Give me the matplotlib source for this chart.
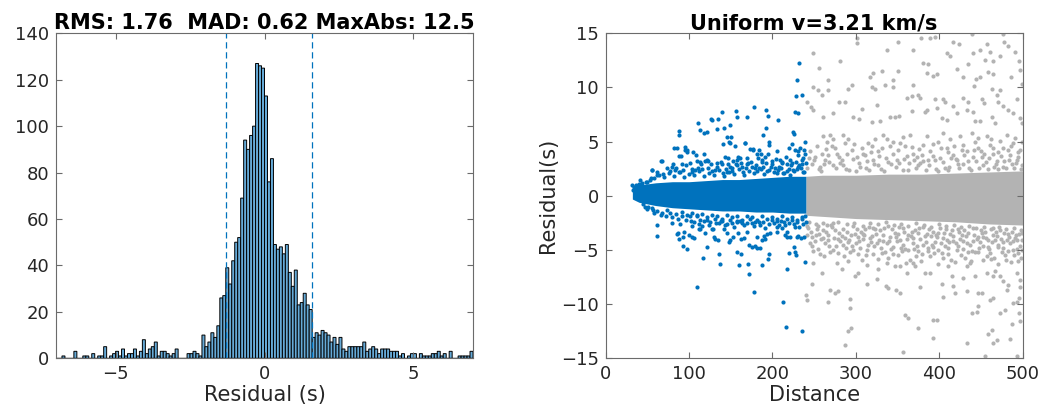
import numpy as np
import matplotlib
matplotlib.use("Agg")
import matplotlib.pyplot as plt

# ---------------- Histogram data (bin width 0.1 from -7 to 7) ----------------
hist_edges_start = -7.0
hist_bin_width = 0.1
hist_counts = [
    0, 0, 1, 0, 0, 0, 3, 0, 0, 1,
    1, 0, 2, 0, 1, 1, 5, 0, 1, 2,
    3, 1, 4, 1, 2, 2, 4, 1, 3, 8,
    2, 4, 5, 7, 1, 3, 3, 2, 1, 2,
    4, 0, 0, 0, 2, 2, 3, 2, 1, 10,
    5, 7, 11, 9, 14, 26, 27, 39, 32, 42,
    50, 52, 69, 94, 90, 96, 100, 127, 126, 125,
    113, 76, 86, 49, 47, 48, 45, 49, 37, 31,
    38, 23, 24, 28, 23, 21, 9, 11, 10, 12,
    11, 10, 7, 9, 6, 9, 4, 3, 5, 5,
    5, 5, 5, 7, 3, 4, 5, 4, 2, 4,
    4, 4, 3, 3, 3, 1, 2, 0, 1, 2,
    2, 0, 2, 1, 1, 1, 2, 2, 3, 1,
    2, 0, 3, 0, 0, 1, 1, 1, 1, 3,
]
dash_lines = [-1.28, 1.59]
left_title = "RMS: 1.76  MAD: 0.62 MaxAbs: 12.5"
right_title = "Uniform v=3.21 km/s"

# ---------------- Scatter data ----------------
# dense core envelopes
blue_core_dist = [32, 40, 60, 80, 100, 120, 140, 160, 180, 200, 220, 240]
blue_core_up = [0.9, 1.0, 1.2, 1.3, 1.3, 1.4, 1.5, 1.5, 1.6, 1.7, 1.8, 1.8]
blue_core_lo = [-0.3, -0.6, -0.9, -1.1, -1.2, -1.3, -1.4, -1.4, -1.5, -1.5, -1.6, -1.6]

gray_core_dist = [240, 260, 300, 340, 380, 420, 460, 500]
gray_core_up = [1.8, 1.9, 1.9, 2.0, 2.0, 2.1, 2.2, 2.3]
gray_core_lo = [-1.8, -1.9, -2.1, -2.2, -2.3, -2.4, -2.6, -2.7]

blue_points = [
    # start of cloud
    (32, 1.0), (34, 0.8), (36, 1.0), (38, 0.7), (33, 0.5), (40, 1.1), (42, 0.9),
    (45, -0.8), (47, -1.0), (44, 1.2), (48, 1.3), (50, 1.3), (54, 1.6),
    # near edge upper
    (58, 1.6), (64, 1.9), (70, 1.7), (76, 2.1), (82, 1.8), (88, 2.2), (94, 1.7),
    (100, 2.0), (106, 1.9), (112, 2.3), (118, 1.8), (124, 2.1), (130, 1.9),
    (136, 2.4), (142, 1.8), (148, 2.2), (154, 2.0), (160, 2.5), (166, 1.9),
    (172, 2.3), (178, 2.1), (184, 2.6), (190, 2.0), (196, 2.4), (202, 2.2),
    (208, 2.7), (214, 2.1), (220, 2.5), (226, 2.3), (232, 2.8), (238, 2.2),
    (84, 2.6), (96, 2.8), (104, 2.5), (114, 2.9), (126, 2.9), (134, 2.7),
    (138, 3.1), (144, 2.5), (152, 2.6), (156, 2.9), (162, 3.0), (168, 2.6),
    (174, 3.1), (180, 2.8), (186, 2.5), (192, 3.0), (198, 2.7), (204, 3.4),
    (210, 2.6), (216, 3.6), (222, 2.8), (228, 3.1), (234, 2.6), (240, 3.0),
    (236, 3.3),
    (62, 2.2), (69, 2.0), (81, 2.9), (93, 2.4), (103, 2.2), (109, 3.2), (116, 2.5),
    (127, 2.3), (133, 3.0), (151, 2.3), (158, 2.8), (165, 2.2), (170, 2.9),
    (182, 2.3), (188, 3.1), (193, 2.3), (200, 2.9), (207, 2.4), (212, 3.1),
    (218, 2.3), (223, 3.0), (229, 2.5), (235, 2.9),
    # near edge lower
    (50, -1.2), (62, -1.4), (68, -1.6), (74, -1.3), (84, -1.7), (92, -1.5),
    (98, -1.8), (104, -1.6), (110, -1.9), (116, -1.7), (122, -2.0), (128, -1.8),
    (134, -1.9), (140, -2.1), (146, -1.8), (152, -2.0), (158, -1.9), (164, -2.2),
    (170, -1.9), (176, -2.0), (182, -2.2), (188, -1.9), (194, -2.1), (200, -2.0),
    (206, -2.3), (212, -1.9), (218, -2.1), (224, -2.0), (230, -2.2), (236, -2.0),
    (72, -1.9), (96, -2.2), (106, -2.4), (118, -2.3), (124, -2.7), (136, -2.5),
    (146, -2.6), (154, -2.9), (166, -2.7), (176, -2.5), (184, -2.4), (196, -2.6),
    (208, -2.7), (214, -2.4), (226, -2.6), (232, -2.9), (240, -2.4),
    (58, -1.6), (66, -1.8), (80, -2.0), (89, -2.6), (102, -2.3), (112, -2.6),
    (121, -2.2), (132, -2.5), (139, -2.3), (151, -2.5), (161, -2.3), (170, -2.5),
    (178, -2.8), (189, -2.4), (202, -2.5), (210, -2.3), (220, -2.5), (227, -2.9),
    (237, -2.6),
    # upper fringe
    (67, 3.2), (56, 2.4), (77, 2.3), (83, 2.4), (89, 2.2), (86, 4.4), (88, 3.7),
    (95, 4.2), (98, 4.0), (91, 2.9), (101, 3.0), (107, 2.4), (111, 2.6), (108, 3.8),
    (119, 3.2), (121, 3.3), (123, 2.6), (131, 2.4), (141, 2.1), (145, 2.2),
    (147, 2.9), (149, 2.7), (153, 3.2), (143, 3.6), (149, 4.9), (155, 4.6),
    (167, 4.9), (173, 4.3), (177, 4.2), (181, 3.9), (183, 3.5), (187, 3.3),
    (191, 3.6), (195, 3.9), (199, 3.2), (203, 2.6), (209, 3.3), (211, 3.0),
    (217, 2.9), (221, 3.3), (227, 4.2), (231, 3.8), (233, 4.4), (237, 3.5),
    (239, 3.9), (225, 2.4), (231, 2.7), (237, 2.2), (169, 3.5), (171, 3.0),
    (157, 3.3), (161, 3.5), (163, 2.7), (175, 2.7), (179, 2.6), (189, 2.7),
    (205, 2.1), (213, 2.1), (221, 1.9), (73, 2.6), (79, 2.7), (61, 1.9),
    (53, 1.5), (41, 1.5),
    # upper outliers
    (232, 12.3), (230, 10.7), (228, 9.2), (236, 9.3), (227, 7.7), (231, 7.6),
    (178, 8.2), (192, 7.9), (195, 7.4), (207, 7.0), (140, 7.7), (156, 7.8),
    (169, 7.3), (126, 7.1), (128, 7.0), (135, 7.1), (111, 6.7), (157, 7.3),
    (88, 6.0), (88, 5.6), (113, 6.1), (118, 5.8), (122, 5.9), (133, 6.2),
    (142, 6.3), (149, 6.5), (192, 6.3), (225, 5.9), (226, 5.7), (145, 5.4),
    (150, 5.4), (141, 4.8), (148, 5.0), (189, 5.6), (196, 5.0), (196, 4.7),
    (167, 4.9), (82, 4.4), (95, 4.5), (97, 4.2), (224, 4.8), (239, 5.0),
    (55, 2.4), (66, 3.2), (105, 4.0), (118, 3.9), (90, 3.7), (177, 4.3),
    (184, 4.2), (186, 3.9), (205, 4.1), (220, 4.4), (231, 4.1), (238, 4.2),
    (113, 3.1), (123, 3.2), (139, 2.9), (147, 3.5), (159, 3.6),
    # lower fringe
    (51, -1.0), (55, -1.1), (57, -1.3), (77, -1.6), (87, -2.1), (91, -1.9),
    (101, -1.9), (109, -1.8), (113, -2.2), (125, -2.4), (131, -2.1), (143, -2.7),
    (149, -2.2), (157, -2.4), (163, -2.5), (173, -2.1), (179, -2.4), (185, -2.7),
    (191, -3.0), (199, -2.2), (205, -2.1), (211, -3.0), (215, -2.7), (223, -2.2),
    (229, -2.4), (235, -2.1), (239, -1.9), (87, -3.4), (93, -3.8), (113, -3.1),
    (119, -3.4), (129, -3.1), (135, -4.1), (153, -3.8), (159, -3.4), (169, -3.3),
    (181, -3.8), (187, -4.1), (197, -3.4), (205, -3.3), (217, -3.3), (221, -3.8),
    (61, -2.7), (61, -3.7),
    # lower outliers
    (109, -8.4), (178, -8.9), (213, -9.8), (216, -12.1), (236, -12.5), (217, -6.8),
    (172, -7.2), (160, -6.4), (171, -6.3), (137, -6.3), (188, -6.4), (117, -5.7),
    (136, -5.4), (158, -5.2), (162, -5.4), (196, -5.4), (195, -5.8), (220, -5.3),
    (227, -5.2), (228, -5.5), (239, -6.1), (97, -4.9), (93, -4.6), (122, -4.7),
    (149, -4.1), (148, -4.3), (172, -4.5), (175, -4.7), (179, -4.6), (182, -4.8),
    (185, -4.8), (162, -4.0), (166, -3.9), (190, -3.7), (194, -3.5), (191, -4.0),
    (205, -2.9), (215, -3.6), (217, -3.8), (229, -3.8), (234, -3.9), (231, -3.7),
    (238, -3.8), (226, -4.7), (86, -3.5), (88, -4.0), (100, -3.6), (103, -3.8),
    (106, -3.9), (94, -3.3), (112, -3.1), (115, -2.8), (128, -3.1), (130, -3.8),
    (131, -4.0), (142, -3.1), (145, -3.4), (80, -2.5), (103, -2.8), (138, -2.3),
    (158, -2.3),
]

gray_points = [
    # upper outliers
    (249, 13.2), (281, 12.4), (256, 11.8), (301, 14.6), (301, 14.1), (351, 14.2),
    (337, 13.5), (369, 13.5), (378, 14.6), (389, 14.6), (395, 14.7), (417, 14.2),
    (424, 14.0), (439, 14.9), (449, 13.5), (457, 14.0), (461, 13.3), (477, 14.9),
    (478, 14.2), (483, 13.8), (491, 13.3), (409, 13.2), (413, 12.9), (440, 13.2),
    (435, 12.2), (455, 12.5), (465, 12.4), (473, 12.9), (496, 12.4), (381, 12.3),
    (387, 12.2), (421, 11.7), (331, 11.5), (321, 11.3), (317, 11.0), (350, 11.5),
    (344, 10.7), (385, 11.3), (392, 11.1), (397, 11.2), (428, 11.0), (444, 10.8),
    (449, 11.0), (459, 11.4), (464, 11.2), (486, 11.0), (497, 11.6), (249, 10.0),
    (254, 9.8), (266, 10.7), (267, 9.8), (291, 9.9), (295, 10.2), (319, 10.0),
    (323, 9.9), (335, 10.2), (344, 10.0), (369, 10.2), (442, 10.1), (463, 9.9),
    (473, 9.8), (499, 10.3), (241, 8.7), (259, 9.3), (280, 8.7), (287, 8.7),
    (307, 8.0), (325, 8.4), (361, 9.0), (367, 9.2), (375, 9.3), (377, 9.0),
    (395, 8.9), (405, 8.9), (407, 8.7), (416, 8.3), (429, 9.0), (435, 8.7),
    (451, 8.9), (454, 8.6), (469, 9.3), (471, 8.7), (493, 8.9), (476, 8.3),
    (483, 7.9), (246, 8.2), (249, 7.9), (273, 7.6), (261, 7.3), (297, 7.3),
    (304, 7.1), (319, 6.8), (329, 6.9), (341, 7.3), (347, 7.3), (352, 7.4),
    (367, 7.8), (385, 7.9), (397, 8.1), (383, 7.7), (403, 7.2), (409, 7.0),
    (421, 7.6), (433, 7.9), (441, 7.7), (443, 6.9), (449, 6.9), (463, 7.3),
    (467, 6.7), (489, 7.6), (497, 7.2), (499, 6.7),
    # lower outliers
    (240, -9.2), (241, -9.6), (247, -8.1), (259, -7.1), (266, -9.8), (269, -8.7),
    (275, -9.0), (279, -8.8), (293, -9.5), (293, -10.4), (291, -12.5), (294, -12.2),
    (287, -13.8), (299, -7.4), (303, -7.1), (313, -8.1), (325, -7.7), (327, -6.8),
    (336, -8.3), (338, -8.5), (348, -8.7), (353, -9.0), (357, -14.4), (359, -11.0),
    (363, -11.3), (375, -12.2), (361, -7.1), (371, -6.5), (377, -8.4), (383, -7.1),
    (389, -7.1), (393, -11.5), (397, -11.5), (393, -13.1), (403, -8.1), (405, -9.3),
    (399, -6.3), (417, -8.3), (419, -9.0), (429, -7.6), (433, -8.8), (433, -13.6),
    (439, -10.8), (445, -10.7), (447, -10.2), (433, -6.5), (437, -6.2), (447, -9.0),
    (451, -9.0), (455, -14.8), (459, -12.8), (463, -12.4), (465, -13.6), (469, -13.3),
    (461, -9.6), (465, -9.4), (473, -10.8), (479, -10.5), (485, -13.2), (487, -11.8),
    (489, -9.9), (493, -9.8), (496, -10.8), (497, -11.6), (496, -9.4), (493, -14.8),
    (481, -8.7), (483, -8.2), (473, -7.4), (477, -7.9), (493, -7.1), (497, -7.8),
    (497, -8.4), (457, -7.1), (465, -7.4), (467, -6.9), (443, -7.4), (411, -6.5),
    (415, -7.4), (347, -6.5), (353, -6.5), (313, -6.4), (277, -6.2), (283, -6.8),
    (249, -6.2), (337, -6.2), (369, -6.2),
    # upper medium zone
    (245, 4.1), (251, 3.6), (259, 3.9), (261, 5.5), (265, 5.0), (269, 5.6),
    (273, 5.2), (257, 2.7), (263, 3.3), (271, 4.6), (277, 3.9), (281, 3.0),
    (287, 4.9), (291, 5.2), (295, 4.2), (285, 5.6), (301, 3.6), (307, 4.4),
    (311, 3.8), (315, 4.9), (319, 4.6), (323, 5.2), (327, 4.1), (333, 5.6),
    (337, 5.2), (341, 4.6), (345, 3.9), (349, 3.3), (353, 4.9), (359, 4.6),
    (365, 5.6), (369, 3.9), (373, 3.6), (377, 3.0), (381, 4.7), (385, 5.5),
    (389, 4.1), (395, 3.3), (399, 5.0), (405, 5.8), (409, 4.4), (413, 5.2),
    (417, 3.8), (421, 3.3), (425, 5.5), (429, 4.7), (433, 4.1), (439, 5.8),
    (443, 5.0), (447, 4.4), (451, 3.6), (457, 5.5), (461, 4.7), (465, 3.9),
    (469, 3.2), (473, 5.1), (477, 4.4), (481, 5.6), (485, 3.8), (489, 4.9),
    (493, 3.3), (497, 4.2),
    (242, 2.6), (250, 3.3), (258, 2.3), (264, 4.3), (272, 2.8), (280, 3.6),
    (288, 2.5), (296, 3.4), (300, 2.3), (308, 3.9), (316, 2.4), (320, 3.3),
    (328, 3.7), (334, 2.3), (342, 2.9), (350, 4.2), (358, 3.4), (362, 2.4),
    (370, 3.3), (376, 4.3), (384, 2.4), (392, 3.7), (398, 2.3), (402, 4.4),
    (410, 2.4), (414, 3.5), (424, 2.6), (430, 3.8), (438, 2.4), (442, 4.2),
    (448, 2.6), (454, 3.9), (458, 2.5), (464, 4.4), (470, 2.5), (474, 3.7),
    (480, 2.6), (486, 4.6), (490, 2.6), (494, 3.6), (498, 2.5),
    (244, 3.5), (253, 4.6), (262, 2.9), (267, 3.8), (275, 4.4), (283, 3.3),
    (289, 3.9), (298, 4.8), (305, 2.7), (313, 3.2), (318, 4.0), (326, 2.8),
    (331, 4.4), (336, 3.5), (344, 5.0), (352, 3.0), (357, 5.4), (361, 3.7),
    (367, 4.5), (375, 2.8), (379, 3.8), (387, 3.3), (393, 4.8), (401, 3.5),
    (407, 2.6), (411, 4.0), (418, 4.6), (423, 2.9), (427, 4.2), (434, 3.2),
    (441, 3.6), (446, 5.3), (450, 4.1), (456, 3.1), (462, 5.2), (466, 2.7),
    (471, 4.0), (478, 3.2), (482, 4.2), (487, 2.9), (491, 5.3), (495, 4.0),
    (499, 5.0),
    # upper near core
    (248, 2.9), (256, 2.5), (268, 3.1), (276, 2.6), (284, 2.8), (292, 2.4),
    (304, 3.0), (312, 2.6), (322, 2.9), (330, 2.5), (338, 3.1), (348, 2.7),
    (356, 2.4), (364, 3.0), (372, 2.6), (380, 3.2), (388, 2.8), (396, 2.5),
    (404, 3.1), (412, 2.7), (420, 3.4), (428, 2.9), (436, 2.6), (444, 3.2),
    (452, 2.8), (460, 3.5), (468, 2.9), (476, 2.7), (484, 3.3), (492, 3.0),
    (499, 2.8),
    # lower medium zone
    (243, -3.0), (245, -4.4), (249, -5.1), (252, -3.6), (255, -2.8), (258, -4.0),
    (262, -5.6), (264, -3.3), (268, -4.6), (271, -2.9), (274, -3.9), (278, -5.3),
    (281, -4.2), (285, -3.1), (288, -4.8), (291, -6.0), (294, -3.6), (297, -2.8),
    (300, -4.4), (303, -5.4), (306, -3.3), (309, -4.0), (313, -5.0), (316, -2.9),
    (319, -3.7), (322, -4.6), (326, -5.8), (329, -3.2), (332, -4.2), (335, -5.2),
    (338, -2.8), (341, -3.8), (344, -4.7), (347, -3.4), (350, -5.5), (353, -4.1),
    (356, -3.0), (359, -4.9), (362, -3.6), (365, -5.9), (368, -4.4), (371, -3.2),
    (374, -5.1), (377, -4.0), (380, -2.9), (383, -3.7), (386, -4.8), (389, -5.6),
    (392, -3.3), (395, -4.3), (398, -5.0), (401, -3.0), (404, -3.9), (407, -4.6),
    (410, -5.4), (413, -3.5), (416, -4.2), (419, -6.1), (422, -3.1), (425, -4.0),
    (428, -4.9), (431, -5.7), (434, -3.4), (437, -4.5), (440, -3.0), (443, -5.2),
    (446, -3.8), (449, -4.3), (452, -5.9), (455, -3.3), (458, -4.7), (461, -5.3),
    (464, -3.6), (467, -4.1), (470, -6.3), (473, -3.2), (476, -4.8), (479, -5.5),
    (482, -3.5), (485, -4.4), (488, -5.0), (491, -3.9), (494, -6.0), (497, -4.6),
    (499, -3.4),
    (247, -3.8), (254, -4.9), (260, -3.2), (266, -4.1), (273, -5.0), (280, -3.4),
    (287, -3.9), (293, -5.2), (299, -3.5), (305, -4.8), (311, -3.1), (318, -4.3),
    (324, -3.5), (331, -5.3), (337, -4.4), (343, -3.1), (349, -4.2), (355, -5.1),
    (361, -4.0), (367, -3.3), (373, -4.6), (379, -5.4), (385, -3.5), (391, -4.5),
    (397, -3.8), (403, -5.3), (409, -4.1), (415, -3.2), (421, -5.0), (427, -3.6),
    (433, -4.4), (439, -5.1), (445, -4.0), (451, -3.4), (457, -5.6), (463, -4.3),
    (469, -3.7), (475, -5.2), (481, -4.1), (487, -3.3), (493, -4.9), (498, -5.7),
    (241, -2.8), (246, -3.3), (251, -4.2), (256, -3.5), (263, -4.4), (267, -3.6),
    (272, -2.5), (276, -4.6), (283, -3.7), (286, -5.6), (290, -4.3), (295, -4.6),
    (302, -3.8), (307, -5.9), (310, -3.6), (314, -4.5), (320, -5.4), (323, -3.1),
    (328, -4.1), (333, -3.6), (339, -5.7), (342, -4.9), (348, -3.8), (352, -2.9),
    (357, -4.5), (360, -6.2), (366, -3.7), (370, -4.9), (375, -3.4), (378, -6.0),
    (384, -4.3), (388, -3.1), (394, -5.3), (396, -3.6), (402, -4.4), (406, -3.4),
    (411, -4.8), (414, -5.9), (420, -4.4), (424, -3.3), (429, -4.2), (432, -3.7),
    (438, -6.0), (441, -4.2), (447, -5.2), (450, -3.2), (453, -4.6), (456, -3.9),
    (460, -4.9), (466, -5.7), (468, -3.3), (471, -4.5), (474, -4.0), (478, -3.4),
    (483, -5.1), (486, -6.1), (489, -4.2), (492, -3.6), (495, -5.3), (499, -4.1),
    (242, -3.6), (248, -4.6), (253, -3.1), (257, -5.4), (261, -3.9), (265, -2.7),
    (269, -5.2), (275, -3.2), (279, -4.0), (284, -4.5), (289, -3.3), (292, -4.1),
    (296, -5.0), (301, -3.1), (304, -4.2), (308, -3.5), (312, -5.5), (317, -3.9),
    (321, -3.0), (325, -4.4), (330, -4.8), (334, -3.0), (340, -4.2), (345, -5.4),
    (351, -3.5), (354, -4.8), (358, -3.3), (363, -5.0), (369, -3.9), (372, -5.6),
    (376, -3.0), (381, -4.5), (387, -5.1), (390, -3.7), (393, -4.7), (399, -3.4),
    (405, -5.7), (408, -3.1), (412, -4.3), (417, -3.7), (423, -4.6), (426, -5.5),
    (430, -3.2), (435, -5.2), (442, -3.6), (448, -4.8), (452, -3.8), (459, -4.1),
    (462, -5.8), (465, -3.0), (470, -4.7), (477, -4.3), (480, -5.9), (484, -3.8),
    (490, -5.5), (493, -4.1), (496, -3.5), (499, -5.0),
    # lower near core
    (244, -2.4), (252, -2.6), (261, -2.5), (270, -2.7), (279, -2.4), (289, -2.6),
    (298, -2.5), (308, -2.8), (317, -2.5), (327, -2.6), (336, -2.4), (346, -2.7),
    (354, -2.6), (363, -2.8), (372, -2.5), (382, -2.7), (390, -2.9), (400, -2.6),
    (408, -2.8), (418, -2.7), (426, -2.9), (436, -2.8), (444, -3.0), (454, -2.9),
    (462, -3.1), (472, -2.9), (480, -3.1), (490, -3.0), (498, -3.2),
]

blue_dist = [p[0] for p in blue_points]
blue_resid = [p[1] for p in blue_points]
gray_dist = [p[0] for p in gray_points]
gray_resid = [p[1] for p in gray_points]

# ---------------- Style ----------------
plt.rcParams['font.family'] = ['DejaVu Sans']
BLUE = '#0072BD'
GRAY = '#B3B3B3'
HISTFACE = '#66AAD7'
AXCOL = '#262626'
FRAME = '#6b6b6b'

fig = plt.figure(figsize=(10.43, 4.19), dpi=100)
ax1 = fig.add_axes([0.0537, 0.1449, 0.3998, 0.7756])
ax2 = fig.add_axes([0.5807, 0.1449, 0.3998, 0.7756])


def style_axes(ax):
    for s in ax.spines.values():
        s.set_color(FRAME)
        s.set_linewidth(0.8)
    ax.tick_params(direction='in', length=4, width=0.8, color=FRAME,
                   labelcolor=AXCOL, labelsize=13, top=True, right=True,
                   pad=5)


# Histogram
edges = hist_edges_start + hist_bin_width * np.arange(len(hist_counts))
bars = ax1.bar(edges, hist_counts, width=hist_bin_width, align='edge',
               color=HISTFACE, edgecolor='#000000', linewidth=0.7)
for b in bars:
    b.set_snap(False)
for d in dash_lines:
    ax1.axvline(d, color=BLUE, linestyle=(0, (5, 3)), linewidth=0.9)
ax1.set_xlim(-7, 7)
ax1.set_ylim(0, 140)
ax1.set_xticks([-5, 0, 5])
ax1.set_yticks(np.arange(0, 141, 20))
ax1.set_xlabel('Residual (s)', fontsize=15, color=AXCOL, labelpad=1)
ax1.set_title(left_title, fontsize=15, fontweight='bold', pad=3)
style_axes(ax1)

# Scatter
ax2.fill_between(gray_core_dist, gray_core_lo, gray_core_up, color=GRAY,
                 linewidth=0)
ax2.scatter(gray_dist, gray_resid, s=9, color=GRAY, linewidths=0)
ax2.fill_between(blue_core_dist, blue_core_lo, blue_core_up, color=BLUE,
                 linewidth=0)
ax2.scatter(blue_dist, blue_resid, s=9, color=BLUE, linewidths=0)
ax2.set_xlim(0, 500)
ax2.set_ylim(-15, 15)
ax2.set_xticks(np.arange(0, 501, 100))
ax2.set_yticks(np.arange(-15, 16, 5))
ax2.set_xlabel('Distance', fontsize=15, color=AXCOL, labelpad=1)
ax2.set_ylabel('Residual(s)', fontsize=15, color=AXCOL, labelpad=2)
ax2.set_title(right_title, fontsize=15, fontweight='bold', pad=3)
style_axes(ax2)

fig.savefig('out.png', dpi=100)
